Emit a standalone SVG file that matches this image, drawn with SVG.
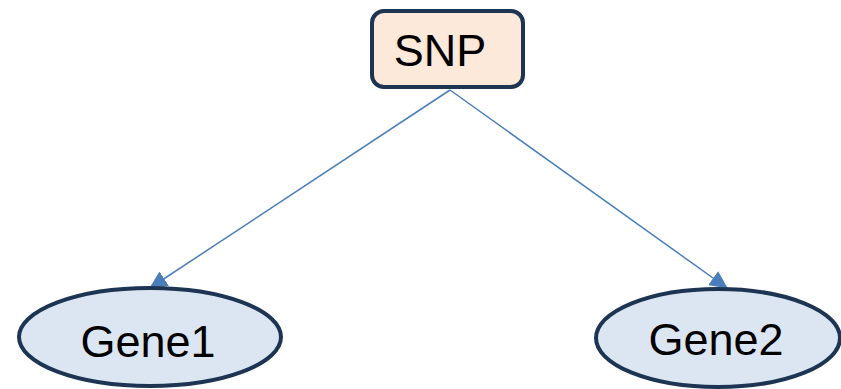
<svg xmlns="http://www.w3.org/2000/svg" width="841" height="389" viewBox="0 0 841 389">
  <style>
    .node-box { fill: #fde9d9; stroke: #1d3553; stroke-width: 4; }
    .node-ell { fill: #dce6f2; stroke: #1d3553; stroke-width: 4; }
    .label { font-family: "Liberation Sans", Arial, sans-serif; font-size: 45px; fill: #000; text-anchor: middle; }
    .edge { stroke: #4a7ebb; stroke-width: 1.5; fill: none; marker-end: url(#arrow); }
  </style>
  <defs>
    <marker id="arrow" viewBox="0 0 18 17" refX="17" refY="8.5" markerWidth="18" markerHeight="17" markerUnits="userSpaceOnUse" orient="auto">
      <path d="M0,0 L18,8.5 L0,17 z" fill="#4a7ebb"/>
    </marker>
  </defs>
  <!-- edges are drawn first so the node outlines sit on top of the arrow tips -->
  <g id="connectors">
    <line class="edge" x1="450" y1="90" x2="150" y2="288"/>
    <line class="edge" x1="450" y1="90" x2="727" y2="288"/>
  </g>
  <g id="snp">
    <rect class="node-box" x="372" y="11" width="151" height="76" rx="12"/>
    <text class="label" x="440" y="66">SNP</text>
  </g>
  <g id="gene1">
    <ellipse class="node-ell" cx="150" cy="337" rx="131" ry="49"/>
    <text class="label" x="148" y="357">Gene1</text>
  </g>
  <g id="gene2">
    <ellipse class="node-ell" cx="718" cy="338" rx="122" ry="49"/>
    <text class="label" x="716" y="355">Gene2</text>
  </g>
</svg>
